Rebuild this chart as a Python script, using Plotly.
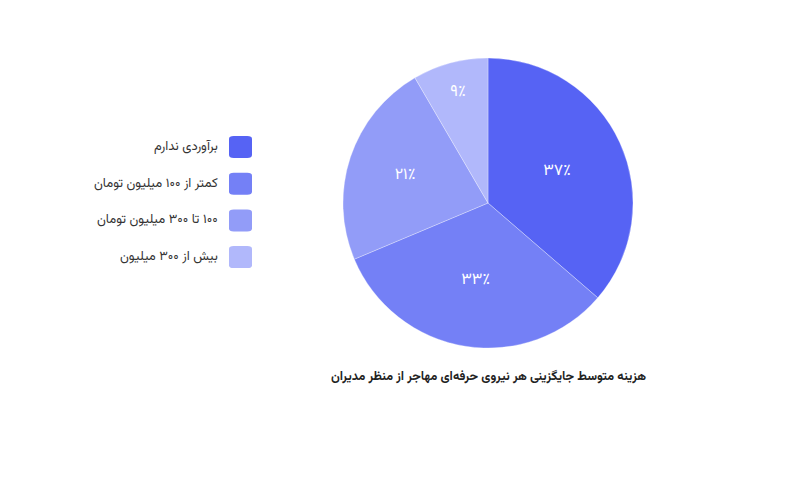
import plotly.graph_objects as go

# داده‌ها
labels = ["برآوردی ندارم", "کمتر از ۱۰۰ میلیون تومان", "۱۰۰ تا ۳۰۰ میلیون تومان", "بیش از ۳۰۰ میلیون"]
values = [36.3, 32.3, 22.9, 8.4]          # سهم برش‌ها (برداشت از تصویر)
pie_text = ["۳۷٪", "۳۳٪", "۲۱٪", "۹٪"]    # برچسب‌های نمایش‌داده‌شده
colors = ["#5663F4", "#7480F6", "#929CF8", "#B1B8FB"]
title = "هزینه متوسط جایگزینی هر نیروی حرفه‌ای مهاجر از منظر مدیران"

RLM = "\u200f"
FONT = "Vazirmatn, DejaVu Sans, sans-serif"
W, H = 789, 480
OFF = 8  # حاشیه پیش‌فرض صفحه

def px(x):
    return (x - OFF) / W

def py(y):
    return 1 - (y - OFF) / H

fig = go.Figure()
fig.add_trace(go.Pie(
    labels=labels, values=values, text=pie_text,
    textinfo="text", sort=False, direction="clockwise", rotation=0,
    marker=dict(colors=colors, line=dict(color="rgba(255,255,255,0.6)", width=0.5)),
    textfont=dict(color="white", size=16, family=FONT),
    insidetextorientation="horizontal",
    hoverinfo="label+text",
    domain=dict(x=[px(343), px(633)], y=[py(349), py(57)]),
    showlegend=False,
))

# لژند دستی (متن سمت چپ، مربع گرد سمت راست)
def rounded_rect(x0, y0, x1, y1, r):
    return (f"M{x0+r},{y0} L{x1-r},{y0} Q{x1},{y0} {x1},{y0+r} L{x1},{y1-r} "
            f"Q{x1},{y1} {x1-r},{y1} L{x0+r},{y1} Q{x0},{y1} {x0},{y1-r} "
            f"L{x0},{y0+r} Q{x0},{y0} {x0+r},{y0} Z")

for i, (lab, col) in enumerate(zip(labels, colors)):
    cy = 147 + i * 36.7
    fig.add_shape(type="path", xref="paper", yref="paper",
                  path=rounded_rect(px(229), py(cy + 11), px(252), py(cy - 11), 0.006),
                  fillcolor=col, line=dict(width=0))
    fig.add_annotation(x=px(220), y=py(cy), xref="paper", yref="paper",
                       text=RLM + lab, showarrow=False, xanchor="right", yanchor="middle",
                       font=dict(size=13, color="#333333", family=FONT))

fig.add_annotation(x=px(488), y=py(377), xref="paper", yref="paper",
                   text="<b>" + RLM + title + "</b>", showarrow=False,
                   xanchor="center", yanchor="middle",
                   font=dict(size=12.6, color="#222222", family=FONT))

fig.update_layout(
    width=W, height=H,
    margin=dict(l=0, r=0, t=0, b=0),
    paper_bgcolor="white", plot_bgcolor="white",
    font=dict(family=FONT),
)

fig.write_html("out.html")
